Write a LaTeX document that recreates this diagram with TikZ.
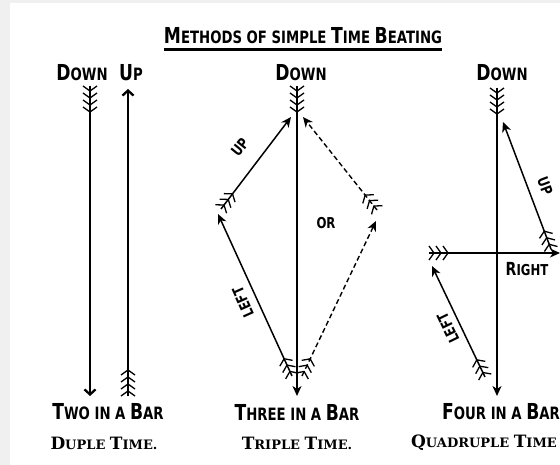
\documentclass[tikz,border=0pt]{standalone}
\usepackage{fontspec}
\usetikzlibrary{arrows.meta,decorations.markings}
\newfontfamily\handfont{DejaVu Sans}[FakeStretch=0.78]
\newfontfamily\printfont{DejaVu Serif}
\newcommand\Cap[1]{{\fontsize{22}{22}\selectfont #1}}
\newcommand\Rcap[1]{{\fontsize{18}{18}\selectfont #1}}
\newcommand\Tcap[1]{{\fontsize{17}{17}\selectfont #1}}

\begin{document}
\begin{tikzpicture}[x=1pt,y=-1pt,
  hand/.style={font=\handfont\bfseries\fontsize{17}{17}\selectfont,inner sep=0pt},
  small/.style={font=\handfont\bfseries\fontsize{15}{15}\selectfont,inner sep=0pt},
  print/.style={font=\printfont\bfseries\fontsize{13}{13}\selectfont,inner sep=0pt},
  beat/.style={line width=2.3pt},
  swing/.style={line width=1.5pt},
  ghost/.style={line width=1.4pt,dash pattern=on 5pt off 3pt},
  head/.style={-{Stealth[length=10pt,width=9pt,inset=3pt]}},
  barb/.style={-{Straight Barb[length=5pt,width=11pt]}},
  fletch/.style={postaction={decorate,decoration={markings,
      mark=at position 0pt with {\foreach \k in {1,...,#1}
        \draw[-,solid,line width=1.3pt] ({(\k-1)*7},7) -- ({(\k-1)*7+5},0) -- ({(\k-1)*7},-7);}}}}
]
\useasboundingbox (0,0) rectangle (560,465);
\fill[black!6] (0,0) rectangle (560,465);
\fill[white] (10,3) rectangle (560,465);

% title
\node[hand] (title) at (303,36) {\Cap{M}ETHODS OF SIMPLE \Cap{T}IME \Cap{B}EATING};
\draw[line width=3pt] ([yshift=-5pt]title.south west) -- ([yshift=-5pt]title.south east);

% two in a bar
\node[hand] (d2down) at (82,73) {\Cap{D}OWN};
\node[hand] (d2up) at (131,73) {\Cap{U}P};
\coordinate (d2a) at (90,86);
\coordinate (d2b) at (90,396);
\coordinate (d2c) at (128,396);
\coordinate (d2d) at (128,89);
\draw[beat,barb,fletch=4] (d2a) -- (d2b);
\draw[beat,barb,fletch=4] (d2c) -- (d2d);
\node[hand] (d2bar) at (108,412) {\Cap{T}WO IN A \Cap{B}AR};
\node[print] (d2time) at (104,443) {\Tcap{D}UPLE \Tcap{T}IME.};

% three in a bar
\node[hand] (t3down) at (301,73) {\Cap{D}OWN};
\coordinate (t3top) at (297,86);
\coordinate (t3bot) at (297,396);
\coordinate (t3lt) at (292,376);
\coordinate (t3lv) at (218,214);
\coordinate (t3ut) at (221,209);
\coordinate (t3uh) at (291,117);
\coordinate (t3rt) at (302,376);
\coordinate (t3rv) at (376,221);
\coordinate (t3st) at (377,210);
\coordinate (t3sh) at (303,117);
\draw[beat,head,fletch=4] (t3top) -- (t3bot);
\draw[swing,head,fletch=3] (t3lt) -- (t3lv);
\draw[swing,head,fletch=3] (t3ut) -- (t3uh);
\draw[ghost,head,fletch=3] (t3rt) -- (t3rv);
\draw[ghost,head,fletch=3] (t3st) -- (t3sh);
\node[small,rotate=51] (t3up) at (240,147) {UP};
\node[small,rotate=114] (t3left) at (243,302) {LEFT};
\node[small] (t3or) at (326,223) {OR};
\node[hand] (t3bar) at (297,412) {\Cap{T}HREE IN A \Cap{B}AR};
\node[print] (t3time) at (297,443) {\Tcap{T}RIPLE \Tcap{T}IME.};

% four in a bar
\node[hand] (q4down) at (502,73) {\Cap{D}OWN};
\coordinate (q4top) at (497,88);
\coordinate (q4bot) at (497,396);
\coordinate (q4ut) at (551,249);
\coordinate (q4uh) at (503,122);
\coordinate (q4rt) at (429,253);
\coordinate (q4rh) at (560,253);
\coordinate (q4lt) at (485,377);
\coordinate (q4lh) at (432,266);
\draw[beat,head,fletch=4] (q4top) -- (q4bot);
\draw[swing,head,fletch=3] (q4ut) -- (q4uh);
\draw[swing,head,fletch=3] (q4rt) -- (q4rh);
\draw[swing,head,fletch=3] (q4lt) -- (q4lh);
\node[small,rotate=-69] (q4up) at (545,186) {UP};
\node[small] (q4right) at (527,269) {\Rcap{R}IGHT};
\node[small,rotate=116] (q4left) at (448,328) {LEFT};
\node[hand] (q4bar) at (501,412) {\Cap{F}OUR IN A \Cap{B}AR};
\node[print] (q4time) at (484,443) {\Tcap{Q}UADRUPLE \Tcap{T}IME};
\end{tikzpicture}
\end{document}
